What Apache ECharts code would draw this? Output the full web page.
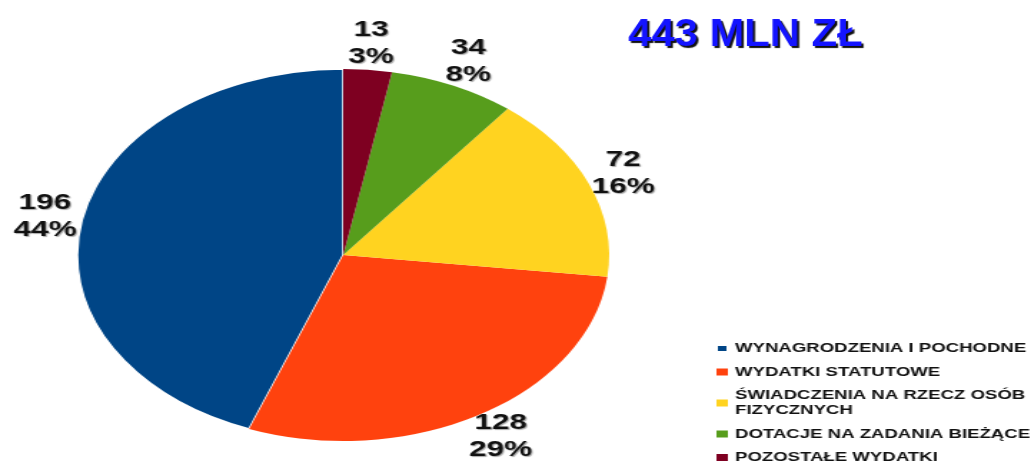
<!DOCTYPE html>
<html>
<head>
<meta charset="utf-8">
<script src="https://cdn.jsdelivr.net/npm/echarts@6/dist/echarts.min.js"></script>
<style>
  html, body { margin: 0; padding: 0; background: #fff; overflow: hidden; }
  .wrap { position: relative; width: 1033px; height: 464px; }
  /* the original slide stretches the chart sideways */
  #chart { position: absolute; left: 0; top: 0; width: 722px; height: 464px; transform: scaleX(1.43); transform-origin: 0 0; }
  #title { position: absolute; left: 0; top: 0; width: 939px; height: 80px; transform: scaleX(1.1); transform-origin: 0 0; pointer-events: none; }
</style>
</head>
<body>
<div class="wrap">
  <div id="chart"></div>
  <div id="title"></div>
</div>
<script>
const categories = [
  'WYNAGRODZENIA I POCHODNE',
  'WYDATKI STATUTOWE',
  'ŚWIADCZENIA NA RZECZ OSÓB FIZYCZNYCH',
  'DOTACJE NA ZADANIA BIEŻĄCE',
  'POZOSTAŁE WYDATKI'
]
const values = [196, 128, 72, 34, 13]
const colors = ['#004586', '#ff420e', '#ffd320', '#579d1c', '#7e0021']
const totalLabel = '443 MLN ZŁ'

const font = '"Liberation Sans", Arial, sans-serif'

const pieData = categories.map((name, i) => ({
  name,
  value: values[i],
  itemStyle: i === 0 ? { borderColor: '#fff', borderWidth: 1.5 } : { borderWidth: 0 }
}))

const chart = echarts.init(document.getElementById('chart'))
chart.setOption({
  animation: false,
  color: colors,
  legend: {
    orient: 'vertical',
    left: 500,
    top: 341,
    height: 160,
    padding: 0,
    itemWidth: 8,
    itemHeight: 7,
    itemGap: 8.5,
    icon: 'rect',
    formatter: (name) => name.replace(' FIZYCZNYCH', '\nFIZYCZNYCH'),
    textStyle: {
      fontFamily: font,
      fontWeight: 'bold',
      fontSize: 13,
      lineHeight: 15,
      color: '#111'
    }
  },
  series: [
    {
      type: 'pie',
      center: [240, 255],
      radius: 186,
      startAngle: 90,
      clockwise: false,
      label: { show: false },
      labelLine: { show: false },
      data: pieData
    },
    {
      // invisible ring that carries the value labels
      type: 'pie',
      silent: true,
      center: [240, 255],
      radius: [182, 236],
      startAngle: 90,
      clockwise: false,
      itemStyle: { color: 'rgba(0,0,0,0)' },
      labelLine: { show: false },
      label: {
        show: true,
        position: 'inside',
        formatter: (p) => p.value + '\n' + Math.round(p.percent) + '%',
        fontFamily: font,
        fontWeight: 'bold',
        fontSize: 22,
        lineHeight: 27,
        color: '#111',
        textShadowColor: 'rgba(0,0,0,0.35)',
        textShadowOffsetX: 1,
        textShadowOffsetY: 1,
        textShadowBlur: 1
      },
      data: categories.map((name, i) => ({ name, value: values[i] }))
    }
  ]
})

const title = echarts.init(document.getElementById('title'))
title.setOption({
  animation: false,
  title: {
    text: totalLabel,
    left: 566,
    top: 12,
    textStyle: {
      fontFamily: font,
      fontWeight: 'bold',
      fontSize: 38,
      color: '#1414ff',
      textShadowColor: '#111',
      textShadowOffsetX: 2,
      textShadowOffsetY: 2,
      textShadowBlur: 1
    }
  }
})
</script>
</body>
</html>
